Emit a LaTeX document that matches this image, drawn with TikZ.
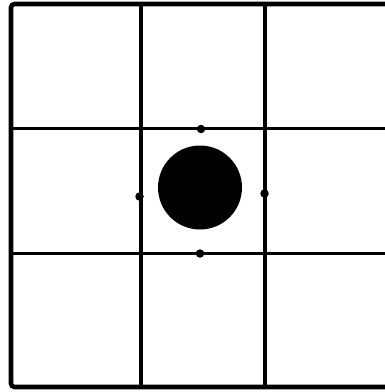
\documentclass[tikz,border=0pt]{standalone}
\usetikzlibrary{positioning}
\definecolor{gridink}{HTML}{000000}
\tikzset{
  frame/.style={gridink,line width=2.6pt,line cap=round,rounded corners=2pt},
  gridline/.style={gridink,line width=2pt},
  pin/.style={fill=gridink},
  ball/.style={circle,fill=gridink,inner sep=0pt,minimum size=1.68cm}
}
\begin{document}
\begin{tikzpicture}[x=0.02cm,y=-0.02cm]
  \useasboundingbox (0,0) rectangle (385,392);
  % outer frame, open on the right
  \draw[frame] (386,4) -- (11,4) -- (11,387) -- (386,387);
  % inner grid
  \foreach \x in {141,265}{ \draw[gridline] (\x,4) -- (\x,387);}
  \foreach \y in {128.5,253.5}{ \draw[gridline] (11,\y) -- (386,\y);}
  % centre disc and the four contact points
  \node[ball] (disc) at (200,187.5) {};
  \coordinate (ptop) at (201,129);
  \coordinate (pleft) at (139.5,196.5);
  \coordinate (pright) at (264.5,193.5);
  \coordinate (pbottom) at (200,253.5);
  \foreach \p in {ptop,pleft,pright,pbottom}{ \fill[pin] (\p) circle (0.085cm);}
\end{tikzpicture}
\end{document}
